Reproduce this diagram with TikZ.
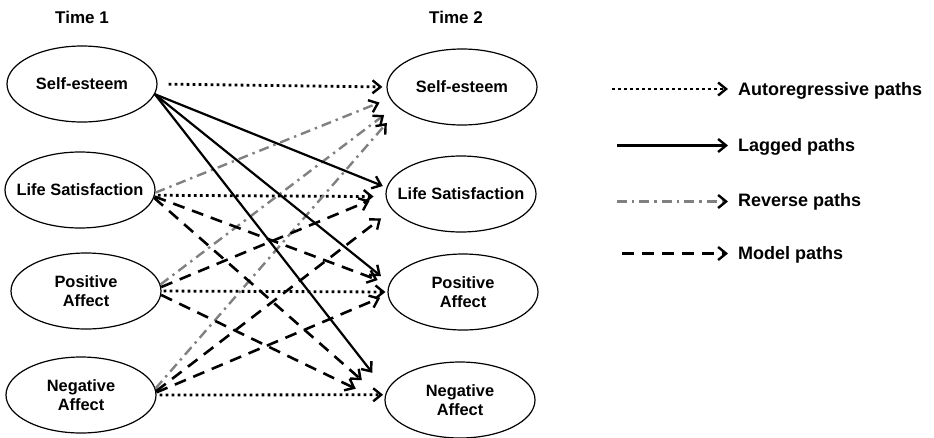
\documentclass[tikz,border=0pt]{standalone}
\usepackage{fontspec}
\setmainfont{Liberation Sans}
\usepackage{tikz}
\usetikzlibrary{shapes.geometric, arrows.meta, positioning}
\definecolor{reversegray}{RGB}{128, 128, 128}

\begin{document}
\begin{tikzpicture}[
    x=1pt, y=-1pt,
    construct/.style={ellipse, draw, line width=1.2pt, minimum width=150pt, minimum height=76pt, inner sep=0pt, label={[font=\fontsize{16.4}{19}\selectfont\bfseries, align=center]center:#1}},
    timelabel/.style={font=\fontsize{17}{20}\selectfont\bfseries},
    legendtext/.style={font=\fontsize{18}{21}\selectfont\bfseries, anchor=base west, inner sep=0pt},
    autopath/.style={-{Straight Barb[length=8pt, width=13pt, line width=2.4pt]}, line width=2.8pt, dash pattern=on 2.8pt off 3.2pt},
    laggedpath/.style={-{Straight Barb[length=8pt, width=13pt, line width=2.4pt]}, line width=2.2pt},
    reversepath/.style={-{Straight Barb[length=8pt, width=13pt, line width=2.4pt, color=black]}, reversegray, line width=2.4pt, dash pattern=on 10pt off 5pt on 2.4pt off 5pt},
    modelpath/.style={-{Straight Barb[length=8pt, width=13pt, line width=2.4pt]}, line width=2.6pt, dash pattern=on 12pt off 8pt}
]
\useasboundingbox (0,0) rectangle (934,437);
\node[timelabel] (time1) at (82,17) {Time 1};
\node[timelabel] (time2) at (456,17) {Time 2};
\node[construct={Self-esteem}] (se1) at (82,84) {};
\node[construct={Life Satisfaction}] (ls1) at (80,190) {};
\node[construct={Positive\\Affect}] (pa1) at (86,291) {};
\node[construct={Negative\\Affect}] (na1) at (81,395) {};
\node[construct={Self-esteem}] (se2) at (462,87) {};
\node[construct={Life Satisfaction}] (ls2) at (461,194) {};
\node[construct={Positive\\Affect}] (pa2) at (463,292) {};
\node[construct={Negative\\Affect}] (na2) at (460,400) {};
\draw[autopath, shorten <=11pt, shorten >=4pt] (se1.east) -- (se2.west);
\draw[autopath, shorten <=3pt, shorten >=12pt] (ls1.-4) -- (ls2.182);
\draw[autopath, shorten <=2pt, shorten >=2pt] (pa1.east) -- (pa2.west);
\draw[autopath, shorten <=3pt, shorten >=2pt] (na1.east) -- (na2.176);
\draw[reversepath, shorten >=11pt] (ls1.-2) -- (se2.189);
\draw[reversepath, shorten >=15pt] (pa1.5) -- (se2.196);
\draw[reversepath, shorten >=19pt] (na1.5) -- (se2.199);
\draw[modelpath, shorten >=12pt] (ls1.-5) -- (pa2.174);
\draw[modelpath, shorten >=30pt] (ls1.-6) -- (na2.west);
\draw[modelpath, shorten >=17pt] (pa1.3) -- (ls2.west);
\draw[modelpath, shorten >=32pt] (pa1.-3) -- (na2.182);
\draw[modelpath, shorten >=14pt] (na1.3) -- (ls2.193);
\draw[modelpath, shorten >=8pt] (na1.2) -- (pa2.182);
\draw[laggedpath, shorten >=4pt] (se1.-8) -- (ls2.175);
\draw[laggedpath, shorten >=11pt] (se1.-8) -- (pa2.173);
\draw[laggedpath, shorten >=23pt] (se1.-8) -- (na2.173);
\node[legendtext] (lgauto) at (738,95) {Autoregressive paths};
\node[legendtext] (lglagged) at (738,151) {Lagged paths};
\node[legendtext] (lgreverse) at (738,206.5) {Reverse paths};
\node[legendtext] (lgmodel) at (738,259) {Model paths};
\coordinate (lgautostart) at (612,89);
\coordinate (lglaggedstart) at (617,145.5);
\coordinate (lgreversestart) at (617,201.5);
\coordinate (lgmodelstart) at (622,253.5);
\draw[autopath, shorten >=10pt] (lgautostart) -- (lgautostart -| lgauto.west);
\draw[laggedpath, shorten >=10pt] (lglaggedstart) -- (lglaggedstart -| lglagged.west);
\draw[reversepath, shorten >=10pt] (lgreversestart) -- (lgreversestart -| lgreverse.west);
\draw[modelpath, shorten >=10pt] (lgmodelstart) -- (lgmodelstart -| lgmodel.west);
\end{tikzpicture}
\end{document}
